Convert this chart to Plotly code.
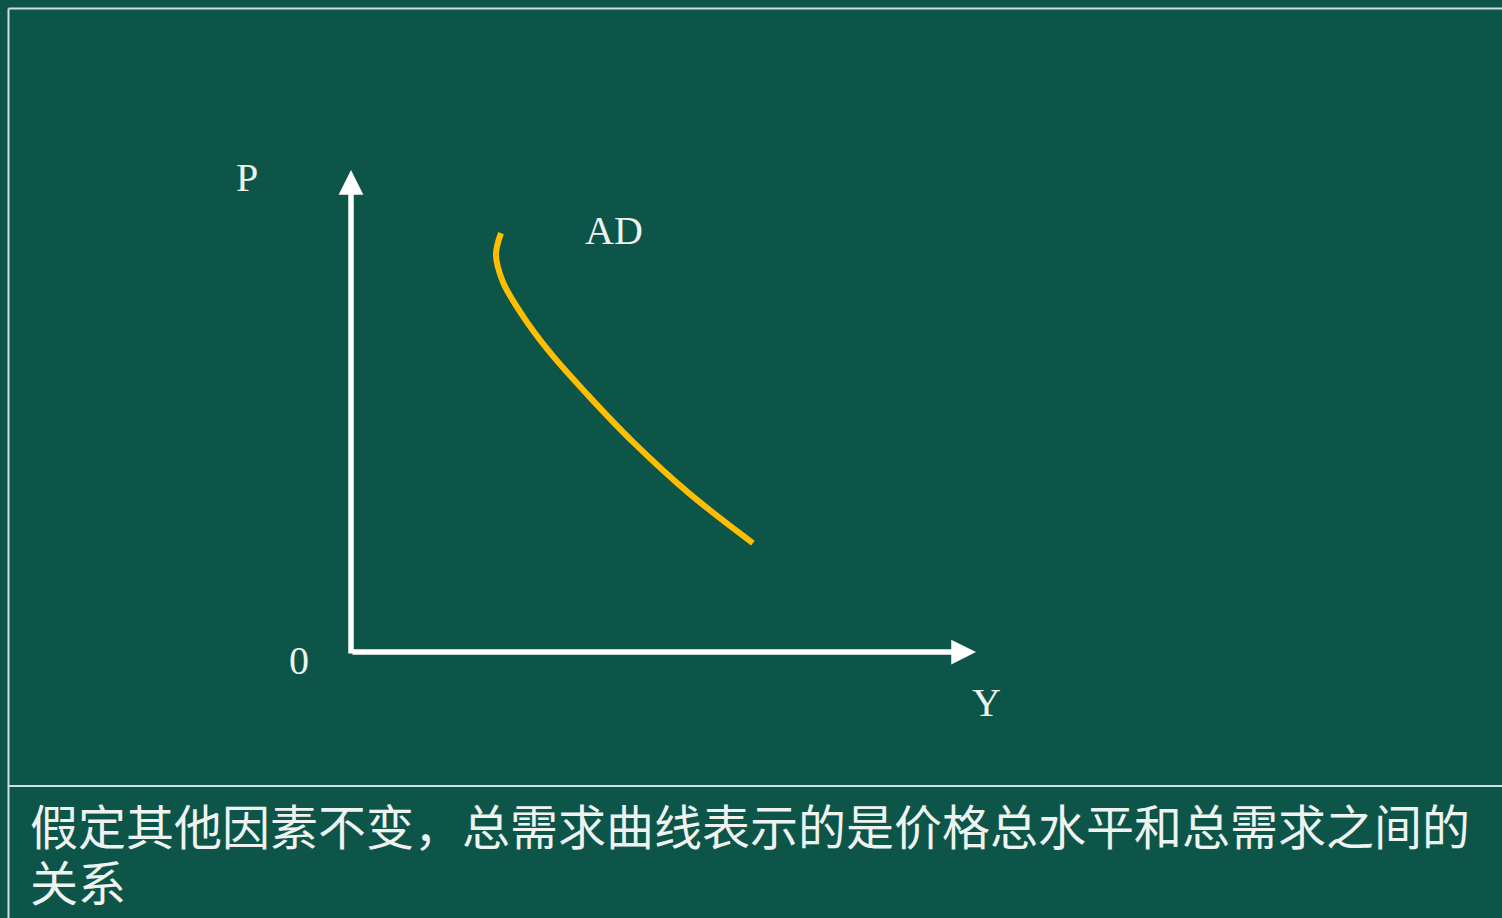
import plotly.graph_objects as go

# --- data (economic units: Y = output, P = price level) ---
ad_Y = [2.40, 2.32, 2.43, 2.74, 3.18, 3.79, 4.51, 5.42, 6.43]
ad_P = [8.69, 8.24, 7.68, 6.99, 6.22, 5.33, 4.36, 3.28, 2.26]
axis_len_Y = 10.0
axis_len_P = 10.0
labels = {"P": "P", "Y": "Y", "O": "0", "AD": "AD"}
caption_lines = ["假定其他因素不变，总需求曲线表示的是价格总水平和总需求之间的", "关系"]

W, H = 1502, 918
BG = "#0d5449"
LINE = "#cfdfdb"
TXT = "#eef3f0"

fig = go.Figure()
fig.add_trace(go.Scatter(x=ad_Y, y=ad_P, mode="lines",
                         line=dict(color="#ffbf00", width=6, shape="spline", smoothing=1.0),
                         hoverinfo="skip", showlegend=False))

# axes arrows
fig.add_annotation(x=axis_len_Y, y=0, ax=0, ay=0, xref="x", yref="y", axref="x", ayref="y",
                   showarrow=True, arrowhead=2, arrowwidth=5.5, arrowsize=0.9,
                   arrowcolor="white", text="")
fig.add_annotation(x=0, y=axis_len_P, ax=0, ay=-0.06, xref="x", yref="y", axref="x", ayref="y",
                   showarrow=True, arrowhead=2, arrowwidth=5.5, arrowsize=0.9,
                   arrowcolor="white", text="")

lab_font = dict(family="Liberation Serif", size=40, color=TXT)
fig.add_annotation(x=-1.66, y=9.85, text=labels["P"], showarrow=False, font=lab_font, xref="x", yref="y")
fig.add_annotation(x=10.16, y=-1.05, text=labels["Y"], showarrow=False, font=lab_font, xref="x", yref="y")
fig.add_annotation(x=-0.83, y=-0.17, text=labels["O"], showarrow=False, font=lab_font, xref="x", yref="y")
fig.add_annotation(x=4.21, y=8.75, text=labels["AD"], showarrow=False, font=lab_font, xref="x", yref="y")

cap_font = dict(family="Noto Sans CJK SC", size=48, color=TXT)
fig.add_annotation(x=28 / W, y=1 - 824 / H, xref="paper", yref="paper", xanchor="left", yanchor="middle",
                   text=caption_lines[0], showarrow=False, font=cap_font)
fig.add_annotation(x=28 / W, y=1 - 880 / H, xref="paper", yref="paper", xanchor="left", yanchor="middle",
                   text=caption_lines[1], showarrow=False, font=cap_font)

# frame lines
for s in [dict(x0=8.5 / W, x1=1, y0=1 - 8.5 / H, y1=1 - 8.5 / H),
          dict(x0=8.5 / W, x1=8.5 / W, y0=0, y1=1 - 8.5 / H),
          dict(x0=8.5 / W, x1=1, y0=1 - 786 / H, y1=1 - 786 / H)]:
    fig.add_shape(type="line", xref="paper", yref="paper", line=dict(color=LINE, width=2), **s)

px_per_Y = 62.5
px_per_P = 48.2
ox, oy = 351, 652
fig.update_layout(
    width=W, height=H, margin=dict(l=0, r=0, t=0, b=0),
    paper_bgcolor=BG, plot_bgcolor=BG,
    xaxis=dict(range=[-ox / px_per_Y, (W - ox) / px_per_Y], visible=False, fixedrange=True),
    yaxis=dict(range=[-(H - oy) / px_per_P, oy / px_per_P], visible=False, fixedrange=True),
    showlegend=False,
)
fig.write_html("out.html", config={"displayModeBar": False},
               post_script="document.body.style.margin='0';document.body.style.background='%s';" % BG)
